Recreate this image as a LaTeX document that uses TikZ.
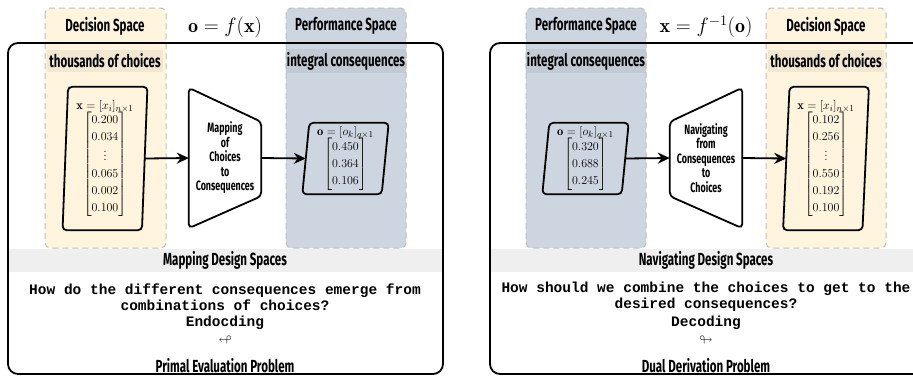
\documentclass[tikz,border=0pt]{standalone}
\usepackage{amsmath}
\usepackage{amssymb}
\usepackage{fontspec}
\newfontfamily\condfont[FakeStretch=0.66]{Fira Sans}
\newfontfamily\codefont{Liberation Mono}
\usetikzlibrary{arrows.meta}
\definecolor{decfill}{RGB}{255,245,222}
\definecolor{perffill}{RGB}{205,214,224}
\definecolor{bandfill}{RGB}{239,239,239}
\tikzstyle{decspace}=[draw=gray!50, fill=decfill, dash pattern=on 6pt off 4pt,
    line width=1pt, rounded corners=5pt]
\tikzstyle{perfspace}=[decspace, fill=perffill]
\tikzstyle{head}=[font=\condfont\bfseries\fontsize{17.5}{19}\selectfont]
\tikzstyle{tag}=[head, fill=black, fill opacity=0.05, text opacity=1,
    inner xsep=2pt, minimum height=21pt]
\tikzstyle{vec}=[align=center, inner sep=0pt, minimum width=79pt,
    font=\fontsize{12.5}{13}\selectfont]
\tikzstyle{outline}=[line width=1.8pt, rounded corners=4pt]
\tikzstyle{stage}=[align=center, inner sep=0pt, minimum width=72pt,
    minimum height=140pt, font=\condfont\bfseries\fontsize{13.5}{14.5}\selectfont]
\tikzstyle{flow}=[line width=1.8pt, -{Stealth[length=12pt,width=11pt]}]
\tikzstyle{frame}=[line width=1.8pt, rounded corners=10pt]
\tikzstyle{band}=[fill=bandfill]
\tikzstyle{question}=[align=center, font=\codefont\bfseries\fontsize{14.5}{16}\selectfont]
\tikzstyle{formula}=[font=\fontsize{20}{22}\selectfont]
\renewcommand{\arraystretch}{1.3}

\begin{document}
\begin{tikzpicture}[x=1pt, y=-1pt]
    \useasboundingbox (0,0) rectangle (913,376);
    \clip (0,0) rectangle (913,376);
    % left panel: mapping
    \draw [decspace] (45,8) rectangle (166,248);
    \draw [perfspace] (286,8) rectangle (406,248);
    \fill [band] (8,249) rectangle (443,272);
    \draw [frame] (8,43) rectangle (443,374);
    \node (decl) [head] at (105,26) {Decision Space};
    \node (perfl) [head] at (346,26) {Performance Space};
    \node (fwd) [formula] at (225,27) {$\mathbf{o}=f(\mathbf{x})$};
    \node (tagdl) [tag] at (105,61) {thousands of choices};
    \node (tagpl) [tag] at (346,61) {integral consequences};
    \node (xl) [vec, minimum height=143pt] at (105,158.5) {$\mathbf{x}=[x_i]_{n\times 1}$\\[-2pt]
        $\begin{bmatrix}0.200\\0.034\\\vdots\\0.065\\0.002\\0.100\end{bmatrix}$};
    \draw [outline] ([xshift=2.75pt]xl.north west) -- ([xshift=2.75pt]xl.north east)
        -- ([xshift=-2.75pt]xl.south east) -- ([xshift=-2.75pt]xl.south west) -- cycle;
    \node (map) [stage] at (225,158) {Mapping\\of\\Choices\\to\\Consequences};
    \draw [outline] (map.north west) -- ([yshift=-34pt]map.north east)
        -- ([yshift=32pt]map.south east) -- (map.south west) -- cycle;
    \node (ol) [vec, minimum height=71pt] at (345.5,158.5) {$\mathbf{o}=[o_k]_{q\times 1}$\\[-2pt]
        $\begin{bmatrix}0.450\\0.364\\0.106\end{bmatrix}$};
    \draw [outline] ([xshift=3.5pt]ol.north west) -- ([xshift=3.5pt]ol.north east)
        -- ([xshift=-3.5pt]ol.south east) -- ([xshift=-3.5pt]ol.south west) -- cycle;
    \draw [flow] (xl.east) -- (map.west);
    \draw [flow] (map.east) -- (ol.west);
    \node (bandl) [head] at (225,260) {Mapping Design Spaces};
    \node (ql) [question] at (225,297) {How do the different consequences emerge from\\combinations of choices?};
    \node (encl) [question] at (225,323) {Endocding};
    \node (arrl) at (225,340) {\fontsize{13}{14}\selectfont $\looparrowleft$};
    \node (probl) [head] at (225,366) {Primal Evaluation Problem};
    % right panel: navigating
    \draw [perfspace] (526,8) rectangle (646,248);
    \draw [decspace] (766,8) rectangle (886,248);
    \fill [band] (490,249) rectangle (925,272);
    \draw [frame] (490,43) rectangle (925,374);
    \node (perfr) [head] at (586,26) {Performance Space};
    \node (decr) [head] at (826,26) {Decision Space};
    \node (inv) [formula] at (706,27) {$\mathbf{x}=f^{-1}(\mathbf{o})$};
    \node (tagpr) [tag] at (586,61) {integral consequences};
    \node (tagdr) [tag] at (826,61) {thousands of choices};
    \node (or) [vec, minimum height=71pt] at (585.5,158.5) {$\mathbf{o}=[o_k]_{q\times 1}$\\[-2pt]
        $\begin{bmatrix}0.320\\0.688\\0.245\end{bmatrix}$};
    \draw [outline] ([xshift=3.5pt]or.north west) -- ([xshift=3.5pt]or.north east)
        -- ([xshift=-3.5pt]or.south east) -- ([xshift=-3.5pt]or.south west) -- cycle;
    \node (nav) [stage] at (706,158) {Navigating\\from\\Consequences\\to\\Choices};
    \draw [outline] ([yshift=-34pt]nav.north west) -- (nav.north east)
        -- (nav.south east) -- ([yshift=32pt]nav.south west) -- cycle;
    \node (xr) [vec, minimum height=143pt] at (826,158.5) {$\mathbf{x}=[x_i]_{n\times 1}$\\[-2pt]
        $\begin{bmatrix}0.102\\0.256\\\vdots\\0.550\\0.192\\0.100\end{bmatrix}$};
    \draw [outline] ([xshift=3.25pt]xr.north west) -- ([xshift=3.25pt]xr.north east)
        -- ([xshift=-3.25pt]xr.south east) -- ([xshift=-3.25pt]xr.south west) -- cycle;
    \draw [flow] (or.east) -- (nav.west);
    \draw [flow] (nav.east) -- (xr.west);
    \node (bandr) [head] at (706,260) {Navigating Design Spaces};
    \node (qr) [question] at (706,297) {How should we combine the choices to get to the\\desired consequences?};
    \node (decod) [question] at (706,323) {Decoding};
    \node (arrr) at (706,340) {\fontsize{13}{14}\selectfont $\looparrowright$};
    \node (probr) [head] at (706,366) {Dual Derivation Problem};
\end{tikzpicture}
\end{document}
